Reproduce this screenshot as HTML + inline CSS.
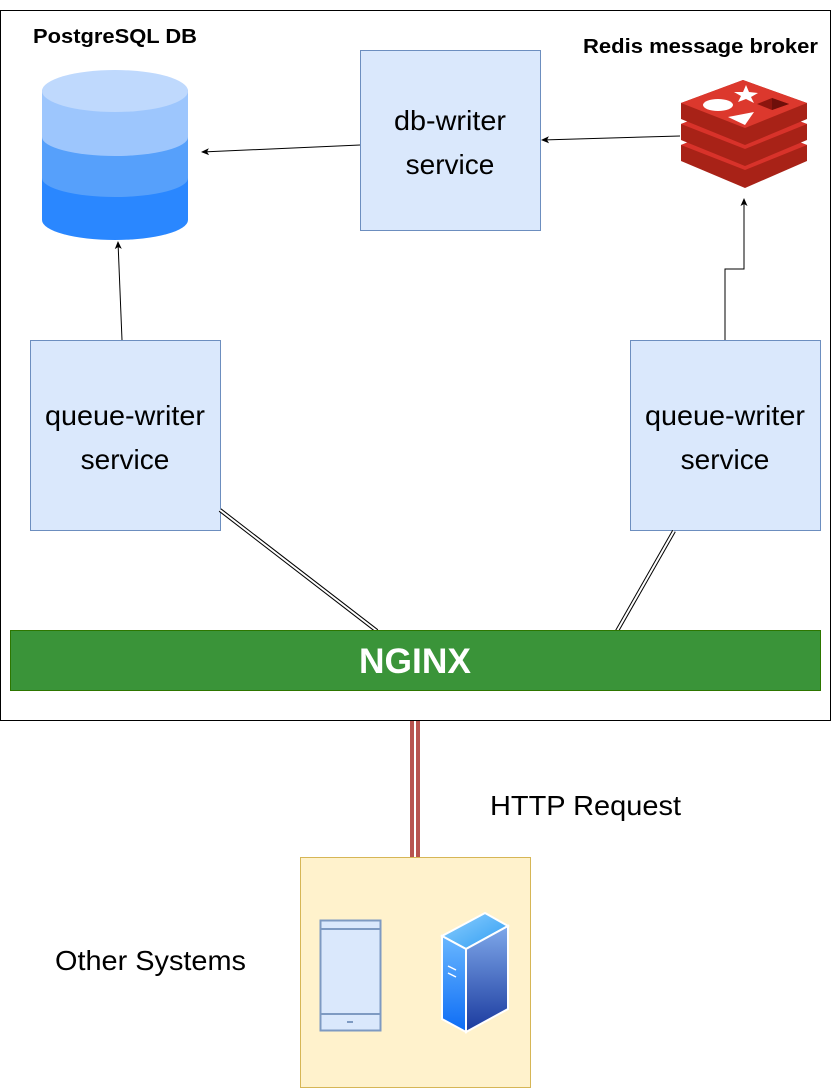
<!DOCTYPE html>
<html><head><meta charset="utf-8"><style>
html,body{margin:0;padding:0;background:#fff;width:831px;height:1089px;overflow:hidden}
svg{display:block}
text{font-family:"Liberation Sans",sans-serif}
</style></head><body>
<svg width="831" height="1089" viewBox="0 0 831 1089" xmlns="http://www.w3.org/2000/svg">
<defs>
<marker id="a" markerWidth="8" markerHeight="8" refX="7" refY="4" orient="auto" markerUnits="userSpaceOnUse"><path d="M0,0.5 L8,4 L0,7.5 L2,4 Z" fill="#000"/></marker>
<linearGradient id="sf" x1="0" y1="0" x2="0" y2="1"><stop offset="0" stop-color="#7fa8ea"/><stop offset="1" stop-color="#1a3a9e"/></linearGradient>
<linearGradient id="sl" x1="0" y1="0" x2="0" y2="1"><stop offset="0" stop-color="#69b7ff"/><stop offset="1" stop-color="#0d6cf5"/></linearGradient>
<linearGradient id="st" x1="0" y1="0" x2="1" y2="1"><stop offset="0" stop-color="#8fd0ff"/><stop offset="1" stop-color="#2e9cf2"/></linearGradient>
</defs>
<rect x="0.5" y="10.5" width="830" height="710" fill="#fff" stroke="#000"/>
<text x="33" y="43" font-size="20" font-weight="bold" textLength="164" lengthAdjust="spacingAndGlyphs">PostgreSQL DB</text>
<text x="583" y="53" font-size="20" font-weight="bold" textLength="235" lengthAdjust="spacingAndGlyphs">Redis message broker</text>
<!-- cylinder -->
<path d="M42,220 L42,92 A73,21 0 0 1 188,92 L188,220 A73,20 0 0 1 42,220 Z" fill="#2a87ff"/>
<path d="M42,178 L42,92 A73,21 0 0 1 188,92 L188,178 A73,19 0 0 1 42,178 Z" fill="#56a0fb"/>
<path d="M42,137 L42,92 A73,21 0 0 1 188,92 L188,137 A73,19 0 0 1 42,137 Z" fill="#9dc6fd"/>
<ellipse cx="115" cy="91" rx="73" ry="21" fill="#bfd9fd"/>
<!-- db-writer -->
<rect x="360.5" y="50.5" width="180" height="180" fill="#dae8fc" stroke="#6c8ebf"/>
<text x="394" y="130" font-size="28" textLength="112" lengthAdjust="spacingAndGlyphs">db-writer</text>
<text x="450" y="174" font-size="28" text-anchor="middle">service</text>
<!-- redis -->
<g>
<path d="M681,145 L743,120 L807,145 L807,161 L745,188 L681,161 Z" fill="#a82217"/>
<path d="M681,145 L743,121 L807,145 L745,170 Z" fill="#d8322a"/>
<path d="M681,124 L743,100 L807,124 L807,140 L745,166 L681,140 Z" fill="#a82217"/>
<path d="M681,124 L743,100 L807,124 L745,149 Z" fill="#d8322a"/>
<path d="M681,103 L743,80 L807,103 L807,119 L745,145 L681,119 Z" fill="#a82217"/>
<path d="M681,103 L743,80 L807,103 L745,128 Z" fill="#dc382d"/>
<ellipse cx="718" cy="105" rx="15" ry="6" fill="#fff"/>
<path d="M746,85 L749,92 L758,93 L751,97 L754,103 L746,99 L738,102 L741,96 L734,92 L743,92 Z" fill="#fff"/>
<path d="M728,117 L754,112 L745,125 Z" fill="#fff"/>
<path d="M757,104 L772,98 L789,104 L772,110 Z" fill="#8c150e"/>
<path d="M772,98 L789,104 L772,110 Z" fill="#6e0f0a"/>
</g>
<!-- queue writers -->
<rect x="30.5" y="340.5" width="190" height="190" fill="#dae8fc" stroke="#6c8ebf"/>
<text x="45" y="425" font-size="28" textLength="160" lengthAdjust="spacingAndGlyphs">queue-writer</text>
<text x="125" y="469" font-size="28" text-anchor="middle">service</text>
<rect x="630.5" y="340.5" width="190" height="190" fill="#dae8fc" stroke="#6c8ebf"/>
<text x="645" y="425" font-size="28" textLength="160" lengthAdjust="spacingAndGlyphs">queue-writer</text>
<text x="725" y="469" font-size="28" text-anchor="middle">service</text>
<!-- arrows -->
<line x1="360" y1="145" x2="202" y2="152" stroke="#000" marker-end="url(#a)"/>
<line x1="680" y1="136" x2="542" y2="140" stroke="#000" marker-end="url(#a)"/>
<line x1="122" y1="340" x2="118" y2="242" stroke="#000" marker-end="url(#a)"/>
<polyline points="725,340 725,269 744,269 744,199" fill="none" stroke="#000" marker-end="url(#a)"/>
<!-- double links -->
<line x1="220" y1="510" x2="377" y2="631" stroke="#000" stroke-width="4"/>
<line x1="220" y1="510" x2="377" y2="631" stroke="#fff" stroke-width="2"/>
<line x1="674" y1="531" x2="617" y2="631" stroke="#000" stroke-width="4"/>
<line x1="674" y1="531" x2="617" y2="631" stroke="#fff" stroke-width="2"/>
<!-- nginx -->
<rect x="10.5" y="630.5" width="810" height="60" fill="#3a9439" stroke="#2d7600"/>
<text x="359" y="673" font-size="35" font-weight="bold" fill="#fff" textLength="112" lengthAdjust="spacingAndGlyphs">NGINX</text>
<!-- http link -->
<line x1="415" y1="721" x2="415" y2="858" stroke="#b85450" stroke-width="10"/>
<line x1="415" y1="721" x2="415" y2="858" stroke="#fff" stroke-width="2"/>
<text x="490" y="815" font-size="28" textLength="191" lengthAdjust="spacingAndGlyphs">HTTP Request</text>
<!-- other systems -->
<rect x="300.5" y="857.5" width="230" height="230" fill="#fff2cc" stroke="#d6b656"/>
<text x="55" y="970" font-size="28" textLength="191" lengthAdjust="spacingAndGlyphs">Other Systems</text>
<rect x="320.5" y="920.5" width="60" height="110" fill="#dae8fc" stroke="#7e9ac2" stroke-width="2"/>
<line x1="320" y1="929" x2="381" y2="929" stroke="#7e9ac2" stroke-width="2"/>
<line x1="320" y1="1014" x2="381" y2="1014" stroke="#7e9ac2" stroke-width="2"/>
<line x1="347" y1="1022" x2="353" y2="1022" stroke="#7e9ac2" stroke-width="2"/>
<path d="M442,936 L485,913 L508,926 L466,949 Z" fill="url(#st)" stroke="#fff" stroke-width="2"/>
<path d="M442,936 L466,949 L466,1032 L442,1019 Z" fill="url(#sl)" stroke="#fff" stroke-width="2"/>
<path d="M466,949 L508,926 L508,1009 L466,1032 Z" fill="url(#sf)" stroke="#fff" stroke-width="2"/>
<line x1="448" y1="966" x2="456" y2="970" stroke="#fff" stroke-width="1.5"/>
<line x1="448" y1="973" x2="456" y2="977" stroke="#fff" stroke-width="1.5"/>
</svg>
</body></html>
